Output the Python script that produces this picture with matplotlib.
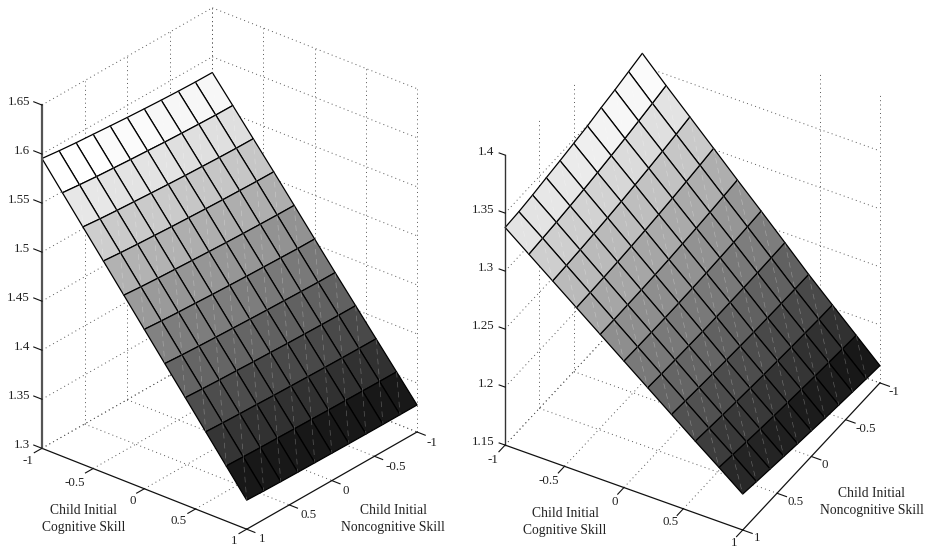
#two surface panels in the old matlab look
import numpy as np
import matplotlib
matplotlib.use('Agg')
import matplotlib.pyplot as plt
from mpl_toolkits.mplot3d import proj3d

plt.rcParams['font.family'] = ['Liberation Serif', 'DejaVu Serif']

FIG_W, FIG_H = 931, 550

# surface grid
cogGrid = [-1, -0.8, -0.6, -0.4, -0.2, 0, 0.2, 0.4, 0.6, 0.8, 1]
noncogGrid = [1, 0.8, 0.6, 0.4, 0.2, 0, -0.2, -0.4, -0.6, -0.8, -1]

# tick labels
skillTicks = [-1, -0.5, 0, 0.5, 1]
skillLabels = ['-1', '-0.5', '0', '0.5', '1']
zTicksLeft = [1.3, 1.35, 1.4, 1.45, 1.5, 1.55, 1.6, 1.65]
zLabelsLeft = ['1.3', '1.35', '1.4', '1.45', '1.5', '1.55', '1.6', '1.65']
zTicksRight = [1.15, 1.2, 1.25, 1.3, 1.35, 1.4]
zLabelsRight = ['1.15', '1.2', '1.25', '1.3', '1.35', '1.4']

# rows: cognitive skill -1..1, columns: noncognitive skill 1..-1
zLeft = [
    [1.5955, 1.5934, 1.5917, 1.5904, 1.5890, 1.5877, 1.5866, 1.5856, 1.5848, 1.5842, 1.5840],
    [1.5688, 1.5670, 1.5654, 1.5642, 1.5630, 1.5620, 1.5609, 1.5601, 1.5594, 1.5588, 1.5586],
    [1.5422, 1.5405, 1.5392, 1.5381, 1.5370, 1.5360, 1.5351, 1.5344, 1.5337, 1.5332, 1.5330],
    [1.5157, 1.5142, 1.5130, 1.5120, 1.5110, 1.5102, 1.5094, 1.5087, 1.5082, 1.5077, 1.5075],
    [1.4891, 1.4877, 1.4866, 1.4857, 1.4848, 1.4840, 1.4832, 1.4826, 1.4821, 1.4817, 1.4815],
    [1.4625, 1.4612, 1.4602, 1.4594, 1.4585, 1.4578, 1.4571, 1.4566, 1.4561, 1.4556, 1.4555],
    [1.4359, 1.4347, 1.4338, 1.4330, 1.4323, 1.4316, 1.4310, 1.4305, 1.4300, 1.4296, 1.4295],
    [1.4094, 1.4084, 1.4076, 1.4070, 1.4063, 1.4058, 1.4052, 1.4048, 1.4044, 1.4041, 1.4040],
    [1.3828, 1.3820, 1.3814, 1.3809, 1.3803, 1.3799, 1.3795, 1.3791, 1.3788, 1.3786, 1.3785],
    [1.3562, 1.3556, 1.3551, 1.3548, 1.3544, 1.3541, 1.3537, 1.3535, 1.3533, 1.3531, 1.3530],
    [1.3296, 1.3290, 1.3286, 1.3283, 1.3281, 1.3279, 1.3277, 1.3276, 1.3275, 1.3275, 1.3275],
]
zRight = [
    [1.3376, 1.3385, 1.3402, 1.3424, 1.3444, 1.3467, 1.3490, 1.3521, 1.3547, 1.3578, 1.3609],
    [1.3219, 1.3230, 1.3241, 1.3255, 1.3270, 1.3288, 1.3308, 1.3329, 1.3353, 1.3378, 1.3405],
    [1.3062, 1.3069, 1.3077, 1.3088, 1.3099, 1.3113, 1.3129, 1.3146, 1.3165, 1.3185, 1.3208],
    [1.2905, 1.2908, 1.2913, 1.2919, 1.2927, 1.2937, 1.2948, 1.2961, 1.2976, 1.2992, 1.3010],
    [1.2748, 1.2747, 1.2749, 1.2751, 1.2755, 1.2760, 1.2768, 1.2776, 1.2786, 1.2798, 1.2811],
    [1.2591, 1.2587, 1.2585, 1.2584, 1.2584, 1.2586, 1.2589, 1.2594, 1.2600, 1.2607, 1.2616],
    [1.2434, 1.2426, 1.2421, 1.2416, 1.2412, 1.2410, 1.2409, 1.2409, 1.2410, 1.2413, 1.2417],
    [1.2277, 1.2266, 1.2256, 1.2247, 1.2239, 1.2232, 1.2226, 1.2222, 1.2219, 1.2217, 1.2216],
    [1.2120, 1.2106, 1.2093, 1.2081, 1.2070, 1.2060, 1.2052, 1.2043, 1.2037, 1.2030, 1.2026],
    [1.1967, 1.1950, 1.1934, 1.1918, 1.1904, 1.1891, 1.1879, 1.1867, 1.1857, 1.1847, 1.1838],
    [1.1810, 1.1790, 1.1772, 1.1754, 1.1736, 1.1720, 1.1703, 1.1689, 1.1675, 1.1661, 1.1649],
]

GRID_STYLE = dict(color='#555555', lw=0.7, ls=(0, (1, 3.4)), zorder=1)
AXIS_W = 600  # pixels, the 3d axes are forced square


# Put tick text next to a 3d point, offset in image pixels (dx right, dy down)
def putLabel(ax, proj, x, y, z, text, off, ha):
    x2, y2, _ = proj3d.proj_transform(x, y, z, proj)
    ax.annotate(text, xy=(x2, y2), xycoords='data', xytext=(off[0], -off[1]),
                textcoords='offset pixels', ha=ha, va='center', fontsize=9.4,
                color='#222222', annotation_clip=False, zorder=5)


# Draw one surface panel
# ax - 3d axes
# zGrid - surface heights
# zlim, zTicks, zLabels - vertical axis
# sideTicks, backTicks - where the vertical dotted lines of both walls stand
# zLines - levels of the horizontal dotted lines
# cogOff, noncogOff, zOff - label offsets in pixels
def drawPanel(ax, zGrid, zlim, zTicks, zLabels, sideTicks, backTicks, zLines,
              cogOff, noncogOff, zOff, tickLen, zLine):
    X, Y = np.meshgrid(cogGrid, noncogGrid, indexing='ij')
    Z = np.array(zGrid)
    levels = (Z - Z.min()) / (Z.max() - Z.min())
    colors = plt.get_cmap('gray', 64)(levels)

    ax.computed_zorder = False
    ax.plot_surface(X, Y, Z, facecolors=colors, rstride=1, cstride=1, shade=False,
                    edgecolor='black', linewidth=0.9, antialiased=True, zorder=2)

    # split seams of the quads
    for i in range(len(cogGrid) - 1):
        for j in range(len(noncogGrid) - 1):
            ax.plot([cogGrid[i], cogGrid[i + 1]], [noncogGrid[j + 1], noncogGrid[j]],
                    [Z[i, j + 1], Z[i + 1, j]], color='white', lw=0.45, alpha=0.3,
                    ls=(0, (9, 7)), zorder=3)

    ax.set_xlim(-1, 1)
    ax.set_ylim(1, -1)
    ax.set_zlim(*zlim)
    ax.set_axis_off()

    # dotted walls and floor
    for lev in zLines:
        ax.plot([-1, -1], [1, -1], [lev, lev], **GRID_STYLE)
        ax.plot([-1, 1], [-1, -1], [lev, lev], **GRID_STYLE)
    for n in sideTicks:
        ax.plot([-1, -1], [n, n], zlim, **GRID_STYLE)
    for c in backTicks:
        ax.plot([c, c], [-1, -1], zlim, **GRID_STYLE)
    for t in skillTicks[:-1]:
        ax.plot([t, t], [1, -1], [zlim[0], zlim[0]], **GRID_STYLE)
        ax.plot([-1, 1], [t, t], [zlim[0], zlim[0]], **GRID_STYLE)

    # solid axes
    ax.plot([-1, 1], [1, 1], [zlim[0], zlim[0]], color='#111111', lw=0.9, zorder=4)
    ax.plot([1, 1], [1, -1], [zlim[0], zlim[0]], color='#111111', lw=0.9, zorder=4)
    ax.plot([-1, -1], [1, 1], zlim, zorder=4, **zLine)

    proj = ax.get_proj()
    for t, lab, off, off2 in zip(skillTicks, skillLabels, cogOff, noncogOff):
        ax.plot([t, t], [1, 1 + tickLen[0]], [zlim[0], zlim[0]], color='#111111', lw=0.8, zorder=4)
        ax.plot([1, 1 + tickLen[1]], [t, t], [zlim[0], zlim[0]], color='#111111', lw=0.8, zorder=4)
        putLabel(ax, proj, t, 1, zlim[0], lab, off, 'center')
        putLabel(ax, proj, 1, t, zlim[0], lab, off2, 'center')
    for t, lab in zip(zTicks, zLabels):
        ax.plot([-1, -1 - tickLen[2]], [1, 1], [t, t], color='#111111', lw=0.8, zorder=4)
        putLabel(ax, proj, -1, 1, t, lab, zOff, 'right')


# Make a square 3d axes whose box center lands on a pixel of the image
def makeAxes(fig, cx, cy, box, zoom, elev, azim):
    left = cx - 0.95 / 1.85 * AXIS_W
    bottom = (FIG_H - cy) - 0.95 / 1.85 * AXIS_W
    ax = fig.add_axes([left / FIG_W, bottom / FIG_H, AXIS_W / FIG_W, AXIS_W / FIG_H],
                      projection='3d', proj_type='ortho')
    ax.view_init(elev=elev, azim=azim)
    ax.set_box_aspect(box, zoom=zoom)
    ax.patch.set_alpha(0)
    return ax


fig = plt.figure(figsize=(FIG_W / 100, FIG_H / 100), dpi=100, facecolor='white')

axLeft = makeAxes(fig, 229.5, 268.5, (266.3, 266.3, 390), 526.4 / AXIS_W, 28.35, -50.24)
drawPanel(axLeft, zLeft, (1.3, 1.65), zTicksLeft, zLabelsLeft,
          [0.5, 0, -0.5, -1], [-1, -0.5, 0, 0.5, 1], zTicksLeft,
          [(-14, 13), (-18, 14), (-12, 12.5), (-17, 12), (-13, 12)],
          [(15, 11), (21, 11), (14, 10.5), (19.5, 10), (15, 10)],
          (-12, -3), (0.09, 0.08, 0.08), dict(color='#555555', lw=1.6))

axRight = makeAxes(fig, 692.5, 269, (274.4, 274.4, 369.3), 520.0 / AXIS_W, 38.25, -60)
drawPanel(axRight, zRight, (1.15, 1.4), zTicksRight, zLabelsRight,
          [0.5, 0], [0.5, 1], zTicksRight[:-1],
          [(-12, 15), (-15.5, 15), (-9, 14.5), (-12.5, 13), (-9, 13)],
          [(14, 9), (20, 9), (13.5, 8.5), (19, 9), (14, 8)],
          (-11, -3), (0.09, 0.08, 0.05), dict(color='#333333', lw=1.0))

# axis titles
axisTitles = [('Child Initial\nCognitive Skill', 84, 519),
              ('Child Initial\nNoncognitive Skill', 393, 519),
              ('Child Initial\nCognitive Skill', 565, 522),
              ('Child Initial\nNoncognitive Skill', 872, 502)]
for text, px, py in axisTitles:
    fig.text(px / FIG_W, 1 - py / FIG_H, text, ha='center', va='center', fontsize=9.8,
             linespacing=1.38, color='#222222')

fig.savefig('out.png', dpi=100)
